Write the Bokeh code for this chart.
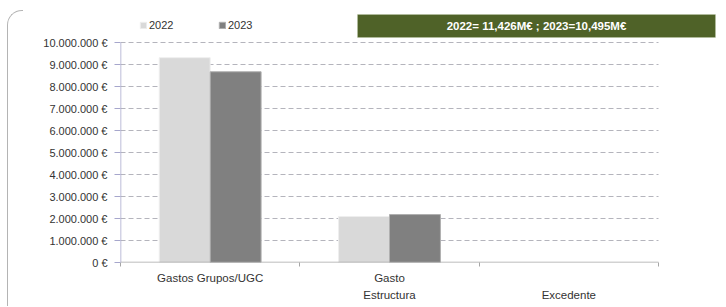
from bokeh.plotting import figure
from bokeh.models import (FixedTicker, Legend, LegendItem, Label, BoxAnnotation,
                          ColumnDataSource, Range1d, InlineStyleSheet)
from bokeh.embed import file_html
from bokeh.resources import INLINE

categories = ["Gastos Grupos/UGC", "Gasto\nEstructura", "\nExcedente"]
series_names = ["2022", "2023"]
values_2022 = [9310000, 2090000, 0]
values_2023 = [8670000, 2180000, 0]
y_ticks = [0, 1000000, 2000000, 3000000, 4000000, 5000000,
           6000000, 7000000, 8000000, 9000000, 10000000]
y_tick_labels = ["0 €", "1.000.000 €", "2.000.000 €", "3.000.000 €", "4.000.000 €",
                 "5.000.000 €", "6.000.000 €", "7.000.000 €", "8.000.000 €",
                 "9.000.000 €", "10.000.000 €"]
banner_text = "2022= 11,426M€ ; 2023=10,495M€"

colors = ["#d9d9d9", "#808080"]
FONT = "Liberation Sans"

W, H = 726, 307
# pixel layout of the plotting area (axis box) inside the canvas
AX_L, AX_R, AX_T, AX_B = 120, 658, 42, 262
FR_L, FR_R, FR_T, FR_B = 120, 720, 8, 262
n = len(categories)
y_top = y_ticks[-1]
x_max = n * (FR_R - FR_L) / (AX_R - AX_L)
y_max = y_top * (FR_B - FR_T) / (AX_B - AX_T)

p = figure(width=W, height=H, output_backend="svg", toolbar_location=None,
           x_range=Range1d(0, x_max), y_range=Range1d(0, y_max),
           min_border_left=FR_L, min_border_right=W - FR_R, min_border_top=FR_T,
           min_border_bottom=H - FR_B)
p.outline_line_color = None
p.background_fill_color = "white"
p.border_fill_color = "white"

# rounded chart-area border at the left edge
p.stylesheets = [InlineStyleSheet(css="""
:host::before {
  content: "";
  position: absolute;
  left: 7px; top: 10px; width: 15px; height: 295px;
  border-left: 1px solid #b4b4b4;
  border-top: 1px solid #b4b4b4;
  border-top-left-radius: 15px;
  z-index: 5;
  pointer-events: none;
}
""")]

bw = 0.284
centers = [i + 0.5 for i in range(n)]

# gridlines (dashed) within the axis box
p.segment(x0=[0] * (len(y_ticks) - 1), x1=[n] * (len(y_ticks) - 1),
          y0=y_ticks[1:], y1=y_ticks[1:], line_color="#b4b4bc",
          line_dash="5 3", line_width=1)

src = ColumnDataSource(dict(
    x22=[c - bw / 2 for c in centers],
    x23=[c + bw / 2 for c in centers],
    v22=values_2022, v23=values_2023,
    a22=[1 if v > 0 else 0 for v in values_2022],
    a23=[1 if v > 0 else 0 for v in values_2023]))
r22 = p.vbar(x="x22", top="v22", width=bw, bottom=0, source=src,
             fill_color=colors[0], line_color="#eeeeee", line_width=1,
             line_alpha="a22")
r23 = p.vbar(x="x23", top="v23", width=bw, bottom=0, source=src,
             fill_color=colors[1], line_color="#b0b0b0", line_width=1,
             line_alpha="a23")

# axis lines drawn as segments so they stop at the axis box
p.segment(x0=[0], x1=[0], y0=[0], y1=[y_top], line_color="#a6a6cc", line_width=1.5)
p.segment(x0=[0], x1=[n], y0=[0], y1=[0], line_color="#a6a6a6", line_width=1.5)

# axes
p.yaxis.ticker = FixedTicker(ticks=y_ticks)
p.yaxis.major_label_overrides = {t: l for t, l in zip(y_ticks, y_tick_labels)}
p.yaxis.axis_line_color = None
p.yaxis.major_tick_line_color = "#a6a6cc"
p.yaxis.major_tick_out = 6
p.yaxis.major_tick_in = 0
p.yaxis.minor_tick_line_color = None
p.yaxis.major_label_standoff = 7
p.yaxis.major_label_text_font = FONT
p.yaxis.major_label_text_font_size = "11px"
p.yaxis.major_label_text_color = "#333333"

p.xaxis.ticker = FixedTicker(ticks=centers, minor_ticks=list(range(n + 1)))
p.xaxis.major_label_overrides = {c: l for c, l in zip(centers, categories)}
p.xaxis.axis_line_color = None
p.xaxis.major_tick_line_color = None
p.xaxis.major_tick_out = 0
p.xaxis.major_tick_in = 0
p.xaxis.minor_tick_line_color = "#a6a6a6"
p.xaxis.minor_tick_out = 4
p.xaxis.minor_tick_in = 0
p.xaxis.major_label_standoff = 5
p.xaxis.major_label_text_font = FONT
p.xaxis.major_label_text_font_size = "11.5px"
p.xaxis.major_label_text_color = "#333333"
p.xaxis.major_label_text_line_height = 1.45

p.xgrid.grid_line_color = None
p.ygrid.grid_line_color = None

# legend above the axis box
legend = Legend(items=[LegendItem(label=series_names[0], renderers=[r22]),
                       LegendItem(label=series_names[1], renderers=[r23])],
                location=(19, FR_B - 33), orientation="horizontal",
                padding=0, margin=0, spacing=0, glyph_width=8, glyph_height=8,
                label_standoff=2, label_width=69, label_height=16,
                label_text_font=FONT, label_text_font_size="11px",
                label_text_color="#333333",
                border_line_color=None, background_fill_alpha=0)
p.add_layout(legend)

# banner
banner = BoxAnnotation(left=357 - FR_L, right=715 - FR_L, top=FR_B - 14, bottom=FR_B - 37,
                       left_units="screen", right_units="screen",
                       top_units="screen", bottom_units="screen",
                       fill_color="#4f6228", fill_alpha=1,
                       line_color="#c4cfae", line_width=1)
p.add_layout(banner)
lbl = Label(x=536 - FR_L, y=FR_B - 25.5, x_units="screen", y_units="screen",
            text=banner_text, text_align="center", text_baseline="middle",
            text_color="white", text_font=FONT,
            text_font_style="bold", text_font_size="11.5px")
p.add_layout(lbl)

open("out.html", "w").write(file_html(p, INLINE))
